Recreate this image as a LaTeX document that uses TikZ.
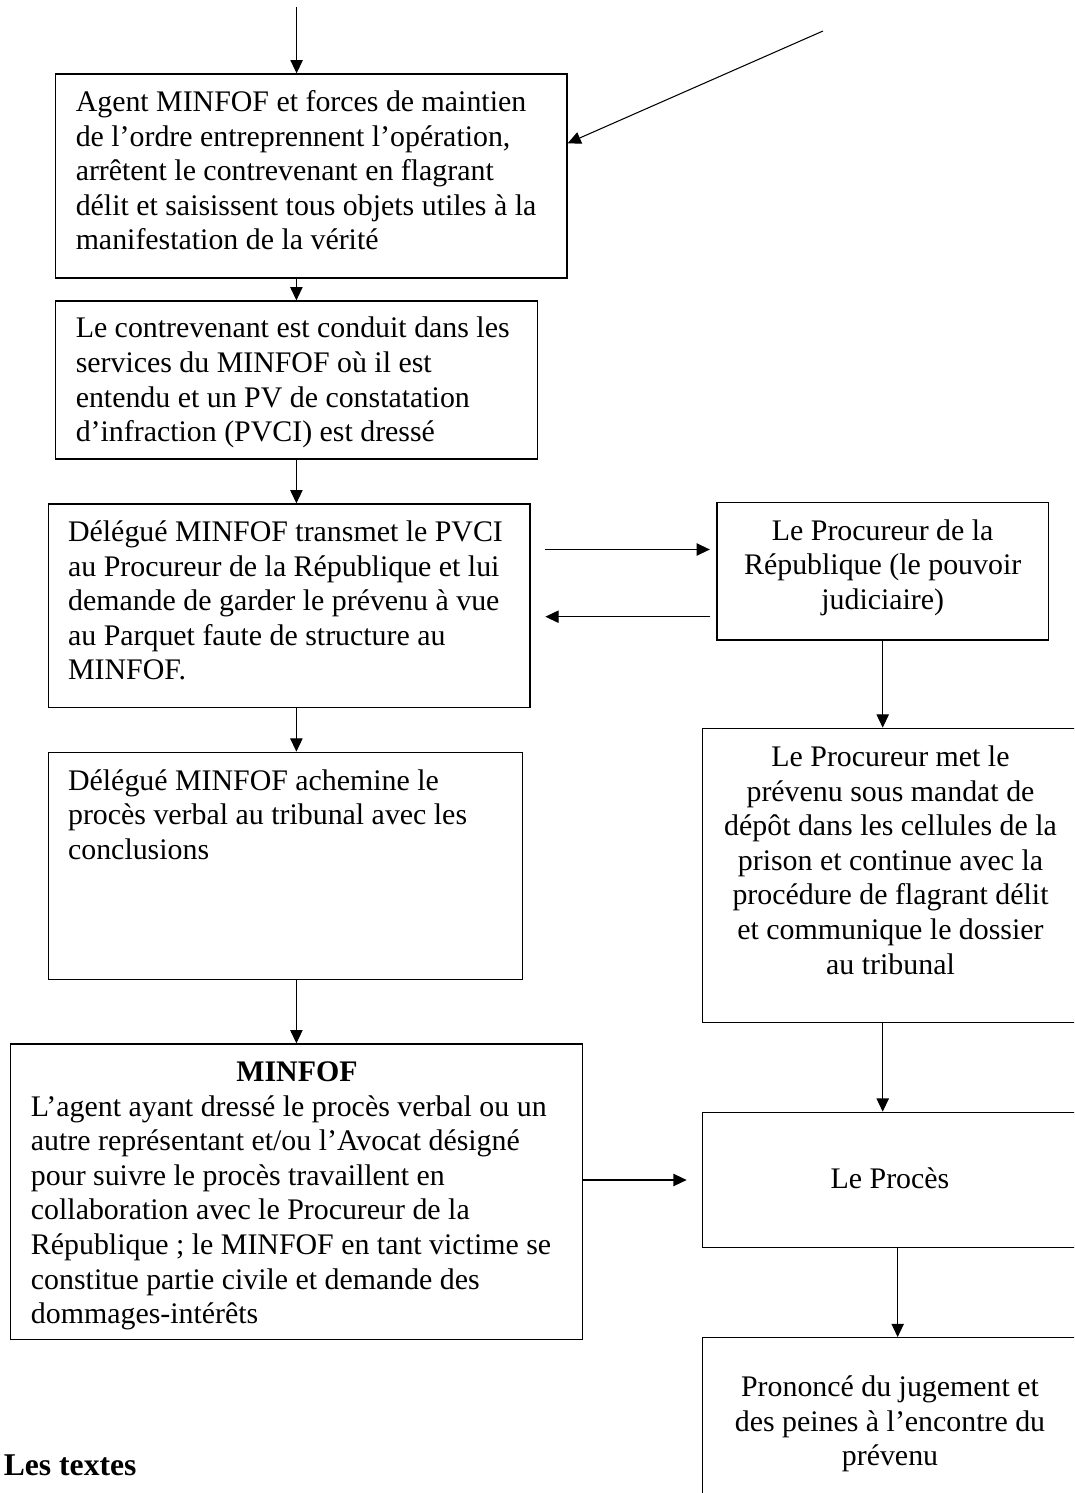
\documentclass[tikz,border=0pt]{standalone}
\usepackage{fontspec}
\setmainfont{Liberation Serif}
\usetikzlibrary{arrows.meta}

\tikzset{
  box/.style={draw, rectangle, line width=0.75pt, inner sep=0pt},
  txt/.style={inner sep=0pt, font=\fontsize{17}{19.7}\selectfont},
  arr/.style={-{Triangle[length=7.5pt,width=7pt]}, line width=0.6pt}
}

\begin{document}
\begin{tikzpicture}
%\draw[step=1cm,gray,very thin] (0,-30) grid (22,0); %background grid
\useasboundingbox (0,0) rectangle (21.48,-29.86);
\clip (0,0) rectangle (21.48,-29.86);

% boxes
\node[box, minimum width=10.23cm, minimum height=4.08cm]  (arrest)    at (6.225,-3.52)   {};
\node[box, minimum width=9.636cm, minimum height=3.16cm]  (pvci)      at (5.928,-7.60)   {};
\node[box, minimum width=9.636cm, minimum height=4.074cm] (transmit)  at (5.782,-12.117) {};
\node[box, minimum width=6.628cm, minimum height=2.746cm] (procureur) at (17.654,-11.427) {};
\node[box, minimum width=9.484cm, minimum height=4.54cm]  (achemine)  at (5.706,-17.316) {};
\node[box, minimum width=7.514cm, minimum height=5.888cm] (mandat)    at (17.803,-17.51) {};
\node[box, minimum width=11.444cm, minimum height=5.906cm] (minfof)   at (5.928,-23.833) {};
\node[box, minimum width=7.514cm, minimum height=2.708cm] (proces)    at (17.803,-23.6)  {};
\node[box, minimum width=7.514cm, minimum height=3.746cm] (jugement)  at (17.803,-28.627) {};

% texts
\node[txt, anchor=base west] (tarrest) at (1.508,-2.23) {\parbox[t]{10cm}{\raggedright
Agent MINFOF et forces de maintien\\
de l’ordre entreprennent l’opération,\\
arrêtent le contrevenant en flagrant\\
délit et saisissent tous objets utiles à la\\
manifestation de la vérité}};

\node[txt, anchor=base west] (tpvci) at (1.508,-6.76) {\parbox[t]{9.4cm}{\raggedright
Le contrevenant est conduit dans les\\
services du MINFOF où il est\\
entendu et un PV de constatation\\
d’infraction (PVCI) est dressé}};

\node[txt, anchor=base west] (ttransmit) at (1.355,-10.83) {\parbox[t]{9.4cm}{\raggedright
Délégué MINFOF transmet le PVCI\\
au Procureur de la République et lui\\
demande de garder le prévenu à vue\\
au Parquet faute de structure au\\
MINFOF.}};

\node[txt, anchor=base] (tprocureur) at (17.654,-10.80) {\parbox[t]{6.4cm}{\centering
Le Procureur de la\\
République (le pouvoir\\
judiciaire)}};

\node[txt, anchor=base west] (tachemine) at (1.355,-15.80) {\parbox[t]{9.2cm}{\raggedright
Délégué MINFOF achemine le\\
procès verbal au tribunal avec les\\
conclusions}};

\node[txt, anchor=base] (tmandat) at (17.81,-15.33) {\parbox[t]{7.2cm}{\centering
Le Procureur met le\\
prévenu sous mandat de\\
dépôt dans les cellules de la\\
prison et continue avec la\\
procédure de flagrant délit\\
et communique le dossier\\
au tribunal}};

\node[txt, anchor=base west] (tminfof) at (0.612,-21.63) {\parbox[t]{10.64cm}{\centering
\textbf{MINFOF}\par\raggedright
L’agent ayant dressé le procès verbal ou un\\
autre représentant et/ou l’Avocat désigné\\
pour suivre le procès travaillent en\\
collaboration avec le Procureur de la\\
République ; le MINFOF en tant victime se\\
constitue partie civile et demande des\\
dommages-intérêts}};

\node[txt, anchor=base] (tproces) at (17.8,-23.76) {Le Procès};

\node[txt, anchor=base] (tjugement) at (17.8,-27.93) {\parbox[t]{7.2cm}{\centering
Prononcé du jugement et\\
des peines à l’encontre du\\
prévenu}};

\node[inner sep=0pt, anchor=base west, font=\fontsize{18}{21}\selectfont\bfseries] (textes) at (0.07,-29.5) {Les textes};

% connectors
\coordinate (in1) at (5.932,-0.14);
\coordinate (in2) at (16.46,-0.62);
\draw[arr] (in1) -- (in1 |- arrest.north);
\draw[arr] (in2) -- ([yshift=0.654cm]arrest.east);
\draw[arr] (arrest.south -| pvci.north) -- (pvci.north);
\draw[arr] (pvci.south) -- (pvci.south |- transmit.north);
\draw[arr] ([shift={(0.29,1.127)}]transmit.east) -- ([shift={(-0.13,0.437)}]procureur.west);
\draw[arr] ([shift={(-0.12,-0.907)}]procureur.west) -- ([shift={(0.294,-0.217)}]transmit.east);
\draw[arr] (transmit.south -| pvci.south) -- (achemine.north -| pvci.south);
\draw[arr] (procureur.south) -- (procureur.south |- mandat.north);
\draw[arr] (achemine.south -| minfof.north) -- (minfof.north);
\draw[arr] (mandat.south -| procureur.south) -- (proces.north -| procureur.south);
\draw[arr] (minfof.east |- proces.west) -- ([xshift=-0.3cm]proces.west);
\draw[arr] ([xshift=0.15cm]proces.south) -- ([xshift=0.15cm]proces.south |- jugement.north);

\end{tikzpicture}
\end{document}
